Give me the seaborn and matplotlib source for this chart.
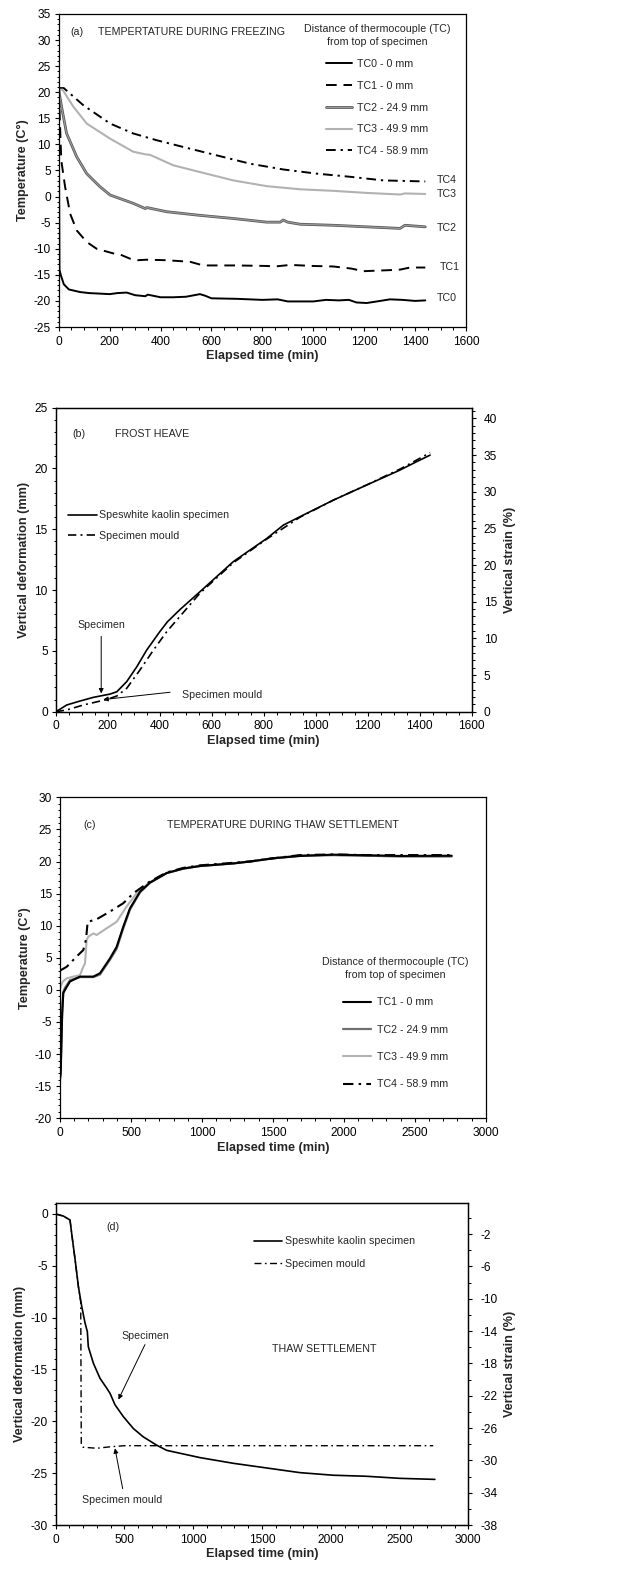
import numpy as np
import pandas as pd
import seaborn as sns
import matplotlib
matplotlib.use("Agg")
import matplotlib.pyplot as plt
import matplotlib.patheffects as pe
from matplotlib.ticker import MultipleLocator, FixedLocator

# ---------------- DATA ----------------
# Panel (a): temperature during freezing
a_t_tc0 = [0, 3, 8, 20, 40, 84, 120, 162, 200, 230, 267, 300, 340, 350, 400, 450, 500, 555, 575, 600,
           700, 800, 860, 900, 1000, 1050, 1100, 1140, 1170, 1210, 1250, 1301, 1350, 1400, 1440]
a_tc0 = [20, -14, -15, -16.8, -17.8, -18.3, -18.5, -18.6, -18.7, -18.5, -18.4, -18.9, -19.1, -18.8, -19.3,
         -19.3, -19.2, -18.7, -19.0, -19.5, -19.6, -19.8, -19.7, -20.1, -20.1, -19.8, -19.9, -19.8, -20.3,
         -20.4, -20.1, -19.7, -19.8, -20.0, -19.9]
a_t_tc1 = [0, 5, 10, 25, 45, 71, 110, 149, 215, 241, 280, 310, 346, 424, 516, 568, 700, 817, 850, 909,
           1000, 1079, 1150, 1197, 1300, 1341, 1380, 1440]
a_tc1 = [20, 14, 7, 1.9, -3.3, -6.5, -8.7, -10.0, -10.9, -11.1, -11.9, -12.2, -12.1, -12.2, -12.5, -13.2,
         -13.2, -13.3, -13.4, -13.1, -13.3, -13.4, -13.8, -14.3, -14.1, -14.0, -13.6, -13.6]
a_t_tc2 = [0, 10, 31, 71, 110, 162, 202, 293, 340, 346, 424, 555, 686, 817, 870, 882, 900, 948, 1079,
           1210, 1341, 1360, 1440]
a_tc2 = [20.5, 17.5, 12.1, 7.6, 4.4, 1.9, 0.3, -1.3, -2.3, -2.1, -2.9, -3.6, -4.2, -4.9, -4.9, -4.5, -4.9,
         -5.3, -5.5, -5.8, -6.1, -5.5, -5.8]
a_t_tc3 = [0, 15, 58, 110, 202, 293, 340, 359, 450, 555, 686, 817, 948, 1079, 1210, 1341, 1360, 1440]
a_tc3 = [20.5, 20.5, 17.2, 14.0, 11.1, 8.6, 8.1, 8.0, 6.0, 4.7, 3.1, 2.0, 1.4, 1.1, 0.7, 0.4, 0.6, 0.5]
a_t_tc4 = [0, 20, 97, 202, 293, 385, 490, 621, 752, 882, 1013, 1144, 1275, 1440]
a_tc4 = [20.8, 20.8, 17.5, 14.0, 12.1, 10.8, 9.5, 7.9, 6.3, 5.2, 4.4, 3.8, 3.1, 2.9]
a_labels = ["TC0 - 0 mm", "TC1 - 0 mm", "TC2 - 24.9 mm", "TC3 - 49.9 mm", "TC4 - 58.9 mm"]
a_end_labels = ["TC0", "TC1", "TC2", "TC3", "TC4"]
a_end_label_y = [-19.4, -13.5, -6.1, 0.4, 3.1]

# Panel (b): frost heave
b_t_spec = [0, 20, 42, 94, 145, 209, 235, 273, 312, 350, 401, 430, 478, 555, 683, 812, 876, 940, 1068,
            1196, 1324, 1388, 1440]
b_spec = [0, 0.25, 0.55, 0.88, 1.18, 1.45, 1.64, 2.47, 3.7, 5.07, 6.6, 7.4, 8.4, 9.87, 12.34, 14.25,
          15.35, 16.04, 17.4, 18.64, 19.87, 20.56, 21.1]
b_t_mould = [0, 42, 106, 196, 235, 273, 324, 376, 427, 555, 683, 812, 940, 1068, 1196, 1324, 1440]
b_mould = [0, 0.14, 0.55, 1.0, 1.29, 1.92, 3.43, 5.07, 6.58, 9.75, 12.25, 14.2, 16.0, 17.4, 18.65, 19.95,
           21.3]

# Panel (c): temperature during thaw settlement
c_t_tc1 = [0, 5, 15, 23, 35, 70, 141, 235, 282, 352, 399, 446, 493, 564, 634, 752, 869, 987, 1221, 1339,
           1503, 1691, 1926, 2161, 2396, 2760]
c_tc1 = [-14, -13, -4, -0.5, 0, 1.3, 2.07, 2.07, 2.6, 4.9, 6.7, 9.85, 12.7, 15.3, 16.7, 18.2, 18.9, 19.3,
         19.7, 20.0, 20.5, 20.86, 21.07, 20.97, 20.86, 20.9]
c_t_tc2 = c_t_tc1
c_tc2 = [-13.5, -12, -3.5, -0.3, 0.3, 1.5, 2.0, 2.0, 2.4, 4.7, 6.4, 9.6, 12.5, 15.2, 16.7, 18.2, 18.9,
         19.3, 19.7, 20.0, 20.5, 20.9, 21.0, 20.9, 20.8, 20.8]
c_t_tc3 = [0, 20, 47, 94, 141, 164, 176, 188, 200, 235, 258, 329, 399, 470, 540, 634, 752, 869, 987, 1221,
           1339, 1503, 1691, 1926, 2161, 2396, 2760]
c_tc3 = [0.3, 1.3, 1.8, 2.07, 2.3, 3.6, 4.1, 7.8, 8.3, 8.8, 8.55, 9.6, 10.6, 13.0, 15.05, 16.8, 18.2, 18.9,
         19.3, 19.7, 20.0, 20.5, 20.9, 21.0, 20.9, 20.8, 20.8]
c_t_tc4 = [0, 47, 117, 164, 183, 195, 258, 352, 446, 517, 634, 752, 869, 987, 1221, 1339, 1503, 1691,
           1926, 2161, 2396, 2760]
c_tc4 = [3.0, 3.6, 5.2, 6.2, 7.8, 10.6, 11.0, 12.2, 13.5, 15.05, 16.9, 18.3, 19.0, 19.4, 19.8, 20.0, 20.5,
         21.0, 21.1, 21.0, 21.0, 21.0]
c_labels = ["TC1 - 0 mm", "TC2 - 24.9 mm", "TC3 - 49.9 mm", "TC4 - 58.9 mm"]

# Panel (d): thaw settlement
d_t_spec = [0, 56, 104, 116, 141, 165, 189, 213, 230, 237, 274, 322, 371, 395, 431, 492, 565, 637, 734,
            807, 928, 1049, 1292, 1534, 1776, 2018, 2260, 2502, 2757]
d_spec = [0, -0.2, -0.58, -1.86, -4.4, -7.0, -8.9, -10.5, -11.35, -12.8, -14.4, -15.85, -16.8, -17.3,
          -18.4, -19.55, -20.7, -21.5, -22.3, -22.8, -23.15, -23.5, -24.05, -24.5, -24.95, -25.2, -25.3,
          -25.5, -25.6]
d_t_mould = [0, 56, 104, 116, 141, 165, 182, 186, 200, 300, 400, 500, 1000, 1500, 2000, 2500, 2745]
d_mould = [0, -0.2, -0.58, -1.86, -4.4, -7.0, -8.5, -22.3, -22.5, -22.6, -22.45, -22.35, -22.35, -22.35,
           -22.35, -22.35, -22.35]
def_labels = ["Speswhite kaolin specimen", "Specimen mould"]

b_strain_ticks = [0, 5, 10, 15, 20, 25, 30, 35, 40]
d_strain_ticks = [-2, -6, -10, -14, -18, -22, -26, -30, -34, -38]

LEG_TITLE = "Distance of thermocouple (TC)\nfrom top of specimen"

# ---------------- STYLE ----------------
sns.set_theme(style="white")
plt.rcParams["font.family"] = ["Liberation Sans", "DejaVu Sans"]
plt.rcParams.update({
    "axes.unicode_minus": False,
    "axes.edgecolor": "black", "axes.linewidth": 0.9,
    "xtick.direction": "out", "ytick.direction": "out",
    "xtick.major.size": 3.2, "ytick.major.size": 3.2,
    "xtick.minor.size": 1.8, "ytick.minor.size": 1.8,
    "xtick.major.width": 0.8, "ytick.major.width": 0.8,
    "xtick.minor.width": 0.7, "ytick.minor.width": 0.7,
    "xtick.color": "black", "ytick.color": "black",
    "xtick.major.pad": 3, "ytick.major.pad": 2.5,
    "xtick.bottom": True, "ytick.left": True,
})
TICK_FS = 8.6
LAB_FS = 9.1
TXT_FS = 7.7

W, H = 617, 1573
fig = plt.figure(figsize=(W / 100, H / 100), dpi=100)


def box(l, r, t, b):
    return [l / W, 1 - b / H, (r - l) / W, (b - t) / H]


def style_axis(ax, xlim, ylim, xmaj, xmin, ymaj, ymin):
    ax.set_xlim(*xlim)
    ax.set_ylim(*ylim)
    ax.xaxis.set_major_locator(MultipleLocator(xmaj))
    ax.xaxis.set_minor_locator(MultipleLocator(xmin))
    ax.yaxis.set_major_locator(MultipleLocator(ymaj))
    ax.yaxis.set_minor_locator(MultipleLocator(ymin))
    ax.tick_params(axis="both", which="both", labelsize=TICK_FS, top=False, right=False)
    ax.set_xlabel("Elapsed time (min)", fontsize=LAB_FS, fontweight="bold", labelpad=2)
    for s in ax.spines.values():
        s.set_visible(True)
        s.set_color("black")


def line(ax, x, y, color, lw, ls, label=None, **kw):
    sns.lineplot(x=np.asarray(x), y=np.asarray(y), ax=ax, color=color, linewidth=lw,
                 linestyle=ls, label=label, estimator=None, sort=False, legend=False, **kw)


def center_title(leg):
    t = leg.get_title()
    t.set_multialignment("center")
    t.set_linespacing(1.35)


def right_axis(ax, ylim, major, minor_step):
    ax2 = ax.twinx()
    ax2.set_ylim(*ylim)
    ax2.yaxis.set_major_locator(FixedLocator(major))
    ax2.yaxis.set_minor_locator(MultipleLocator(minor_step))
    ax2.tick_params(axis="y", which="both", labelsize=TICK_FS, right=True, left=False,
                    direction="out")
    ax2.tick_params(axis="y", which="major", pad=5.5)
    ax2.set_ylabel("Vertical strain (%)", fontsize=LAB_FS, fontweight="bold", labelpad=5)
    ax2.grid(False)
    return ax2


DASH = (0, (5.5, 3.5))
DASHDOT = (0, (5, 2.5, 1.2, 2.5))
DG = "#707070"
LG = "#b2b2b2"
ARROW = dict(arrowstyle="-|>", color="black", lw=0.7, mutation_scale=7, shrinkA=0, shrinkB=0)

# ---------------- (a) ----------------
ax = fig.add_axes(box(58.7, 466, 14, 327))
line(ax, a_t_tc4, a_tc4, "black", 1.4, DASHDOT, a_labels[4])
line(ax, a_t_tc3, a_tc3, LG, 1.5, "-", a_labels[3])
line(ax, a_t_tc2, a_tc2, "#9a9a9a", 0.9, "-", a_labels[2],
     path_effects=[pe.Stroke(linewidth=2.0, foreground="#555555"), pe.Normal()])
line(ax, a_t_tc1, a_tc1, "black", 1.4, DASH, a_labels[1])
line(ax, a_t_tc0, a_tc0, "black", 1.4, "-", a_labels[0])
style_axis(ax, (0, 1600), (-25, 35), 200, 50, 5, 1)
ax.set_ylabel("Temperature (C°)", fontsize=LAB_FS, fontweight="bold", labelpad=3)
h, l = ax.get_legend_handles_labels()
hs = [h[l.index(lab)] for lab in a_labels]
leg = ax.legend(hs, a_labels, loc="upper center", bbox_to_anchor=(1250, 33.0),
                bbox_transform=ax.transData, frameon=False, fontsize=TXT_FS,
                title=LEG_TITLE, title_fontsize=TXT_FS,
                handlelength=2.5, handletextpad=0.45, labelspacing=1.1, borderpad=0, borderaxespad=0)
center_title(leg)
ax.text(44.5, 31.5, "(a)", fontsize=TXT_FS, va="center")
ax.text(153, 31.5, "TEMPERTATURE DURING FREEZING", fontsize=TXT_FS, va="center")
for lab, yy in zip(a_end_labels, a_end_label_y):
    ax.text(1495 if lab == "TC1" else 1486, yy, lab, fontsize=TXT_FS, va="center")

# ---------------- (b) ----------------
ax = fig.add_axes(box(55.7, 471.7, 407.7, 711.7))
line(ax, b_t_mould, b_mould, "black", 1.2, DASHDOT, def_labels[1])
line(ax, b_t_spec, b_spec, "black", 1.2, "-", def_labels[0])
style_axis(ax, (0, 1600), (0, 25), 200, 50, 5, 1)
ax.set_ylabel("Vertical deformation (mm)", fontsize=LAB_FS, fontweight="bold", labelpad=3)
h, l = ax.get_legend_handles_labels()
hs = [h[l.index(lab)] for lab in def_labels]
ax.legend(hs, def_labels, loc="upper left", bbox_to_anchor=(48.7, 16.55),
          bbox_transform=ax.transData, frameon=False, fontsize=TXT_FS,
          handlelength=2.65, handletextpad=0.25, labelspacing=1.0, borderpad=0, borderaxespad=0)
ax.text(65.4, 22.8, "(b)", fontsize=TXT_FS, va="center")
ax.text(228, 22.8, "FROST HEAVE", fontsize=TXT_FS, va="center")
ax.annotate("", xy=(175, 1.5), xytext=(175, 6.2), arrowprops=ARROW)
ax.text(175, 7.1, "Specimen", fontsize=TXT_FS, ha="center", va="center")
ax.annotate("", xy=(183, 1.0), xytext=(440, 1.6), arrowprops=ARROW)
ax.text(485, 1.37, "Specimen mould", fontsize=TXT_FS, va="center")
right_axis(ax, (0, 41.45), b_strain_ticks, 1)

# ---------------- (c) ----------------
ax = fig.add_axes(box(60, 485.7, 797.3, 1118.3))
line(ax, c_t_tc3, c_tc3, LG, 1.5, "-", c_labels[2])
line(ax, c_t_tc2, c_tc2, DG, 1.6, "-", c_labels[1])
line(ax, c_t_tc1, c_tc1, "black", 1.5, "-", c_labels[0])
line(ax, c_t_tc4, c_tc4, "black", 1.5, DASHDOT, c_labels[3])
style_axis(ax, (0, 3000), (-20, 30), 500, 100, 5, 1)
ax.set_ylabel("Temperature (C°)", fontsize=LAB_FS, fontweight="bold", labelpad=3)
h, l = ax.get_legend_handles_labels()
hs = [h[l.index(lab)] for lab in c_labels]
leg = ax.legend(hs, c_labels, loc="upper center", bbox_to_anchor=(2365, 5.1),
                bbox_transform=ax.transData, frameon=False, fontsize=TXT_FS,
                title=LEG_TITLE, title_fontsize=TXT_FS,
                handlelength=2.6, handletextpad=0.6, labelspacing=1.62, borderpad=0, borderaxespad=0)
center_title(leg)
ax.text(164, 25.7, "(c)", fontsize=TXT_FS, va="center")
ax.text(752, 25.7, "TEMPERATURE DURING THAW SETTLEMENT", fontsize=TXT_FS, va="center")

# ---------------- (d) ----------------
ax = fig.add_axes(box(55.7, 468.3, 1203.3, 1525))
line(ax, d_t_mould, d_mould, "black", 1.0, DASHDOT, def_labels[1])
line(ax, d_t_spec, d_spec, "black", 1.2, "-", def_labels[0])
style_axis(ax, (0, 3000), (-30, 1.03), 500, 100, 5, 1)
ax.set_ylabel("Vertical deformation (mm)", fontsize=LAB_FS, fontweight="bold", labelpad=3)
h, l = ax.get_legend_handles_labels()
hs = [h[l.index(lab)] for lab in def_labels]
ax.legend(hs, def_labels, loc="upper left", bbox_to_anchor=(1442, -2.15),
          bbox_transform=ax.transData, frameon=False, fontsize=TXT_FS,
          handlelength=2.6, handletextpad=0.25, labelspacing=1.2, borderpad=0, borderaxespad=0)
ax.text(366, -1.22, "(d)", fontsize=TXT_FS, va="center")
ax.text(1570, -13.05, "THAW SETTLEMENT", fontsize=TXT_FS, va="center")
ax.annotate("", xy=(456, -17.9), xytext=(649, -12.6), arrowprops=ARROW)
ax.text(649, -11.8, "Specimen", fontsize=TXT_FS, ha="center", va="center")
ax.annotate("", xy=(431, -22.6), xytext=(487, -26.5), arrowprops=ARROW)
ax.text(485, -27.6, "Specimen mould", fontsize=TXT_FS, ha="center", va="center")
right_axis(ax, (-38, 1.8), d_strain_ticks, 2)

fig.savefig("out.png", dpi=100, facecolor="white")
